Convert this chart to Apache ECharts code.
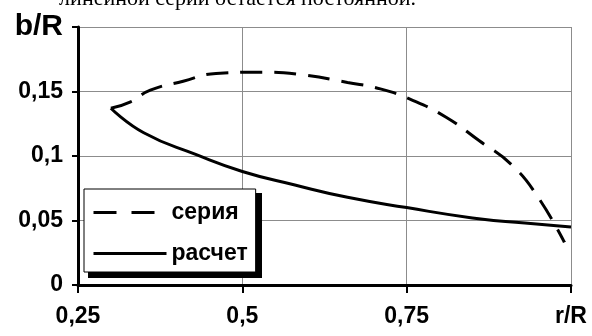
<!DOCTYPE html>
<html>
<head>
<meta charset="utf-8">
<script src="https://cdn.jsdelivr.net/npm/echarts@6/dist/echarts.min.js"></script>
<style>
html,body{margin:0;padding:0;background:#fff;}
#c{width:592px;height:336px;}
</style>
</head>
<body>
<div id="c"></div>
<script>
// Series "серия" (dashed)
const seriyaR = [0.30, 0.33, 0.36, 0.41, 0.46, 0.53, 0.59, 0.66, 0.71, 0.76, 0.81, 0.86, 0.91, 0.95, 0.99];
const seriyaB = [0.137, 0.142, 0.151, 0.158, 0.164, 0.165, 0.163, 0.157, 0.152, 0.143, 0.130, 0.112, 0.093, 0.068, 0.033];
// Series "расчет" (solid)
const raschetR = [0.30, 0.35, 0.43, 0.50, 0.58, 0.66, 0.75, 0.85, 0.93, 1.00];
const raschetB = [0.137, 0.118, 0.101, 0.088, 0.0775, 0.068, 0.060, 0.052, 0.048, 0.045];
const seriesNames = ['серия', 'расчет'];
const xTicks = [0.25, 0.5, 0.75, 1.0];
const yTicks = [0, 0.05, 0.1, 0.15, 0.2];
const xAxisTitle = 'r/R';
const yAxisTitle = 'b/R';
const topText = 'линейной серии остается постоянной.';

function fmt(v) {
  return String(parseFloat(v.toFixed(2))).replace('.', ',');
}
const pair = (xs, ys) => xs.map((x, i) => [x, ys[i]]);

const chart = echarts.init(document.getElementById('c'), null, {renderer: 'canvas'});
const FONT = '"Liberation Sans", Arial, sans-serif';
chart.setOption({
  animation: false,
  backgroundColor: '#fff',
  textStyle: {fontFamily: FONT},
  graphic: [{
    type: 'text', right: 592 - 416, top: -12, silent: true,
    style: {text: topText, font: '22px "Liberation Serif", "DejaVu Serif", serif', fill: '#000'}
  }, {
    // legend drop shadow
    type: 'rect', left: 88, top: 193, z: 50, silent: true,
    shape: {width: 174, height: 85},
    style: {fill: '#000'}
  }],
  grid: {left: 78, right: 21, top: 27, bottom: 51},
  xAxis: {
    type: 'value', min: xTicks[0], max: xTicks[xTicks.length - 1], interval: 0.25,
    axisLine: {show: true, onZero: false, lineStyle: {color: '#000', width: 3}},
    axisTick: {show: true, inside: false, length: 8, lineStyle: {color: '#000', width: 2}},
    splitLine: {show: true, lineStyle: {color: '#8c8c8c', width: 1}},
    axisLabel: {
      margin: 20, color: '#000', fontSize: 23, fontWeight: 'bold', fontFamily: FONT,
      showMinLabel: true, showMaxLabel: true,
      formatter: v => Math.abs(v - 1) < 1e-9 ? xAxisTitle : fmt(v)
    }
  },
  yAxis: {
    type: 'value', min: yTicks[0], max: yTicks[yTicks.length - 1], interval: 0.05,
    axisLine: {show: true, lineStyle: {color: '#000', width: 3}},
    axisTick: {show: true, inside: false, length: 6, lineStyle: {color: '#000', width: 2}},
    splitLine: {show: true, lineStyle: {color: '#8c8c8c', width: 1}},
    axisLabel: {
      margin: 15, color: '#000', fontSize: 23, fontWeight: 'bold', fontFamily: FONT,
      showMinLabel: true, showMaxLabel: true,
      formatter: v => Math.abs(v - 0.2) < 1e-9 ? '{big|' + yAxisTitle + '}' : fmt(v),
      rich: {big: {fontSize: 30, fontWeight: 'bold', fontFamily: FONT, color: '#000'}}
    }
  },
  legend: {
    show: true, z: 60,
    orient: 'vertical', left: 84, top: 189,
    padding: [12, 8, 7, 8],
    itemGap: 18, itemWidth: 73, itemHeight: 14,
    backgroundColor: '#fff', borderColor: '#000', borderWidth: 1,
    textStyle: {fontSize: 23, fontWeight: 'bold', color: '#000', fontFamily: FONT},
    data: [
      {name: seriesNames[0], itemStyle: {opacity: 0}, lineStyle: {type: [23, 15], width: 3, color: '#000'}},
      {name: seriesNames[1], itemStyle: {opacity: 0}, lineStyle: {type: 'solid', width: 3, color: '#000'}}
    ]
  },
  series: [
    {
      name: seriesNames[0], type: 'line', smooth: true, showSymbol: false, symbol: 'none',
      data: pair(seriyaR, seriyaB),
      lineStyle: {color: '#000', width: 3, type: [22, 12]}, itemStyle: {color: '#000'}
    },
    {
      name: seriesNames[1], type: 'line', smooth: true, showSymbol: false, symbol: 'none',
      data: pair(raschetR, raschetB),
      lineStyle: {color: '#000', width: 3, type: 'solid'}, itemStyle: {color: '#000'}
    }
  ]
});
</script>
</body>
</html>
